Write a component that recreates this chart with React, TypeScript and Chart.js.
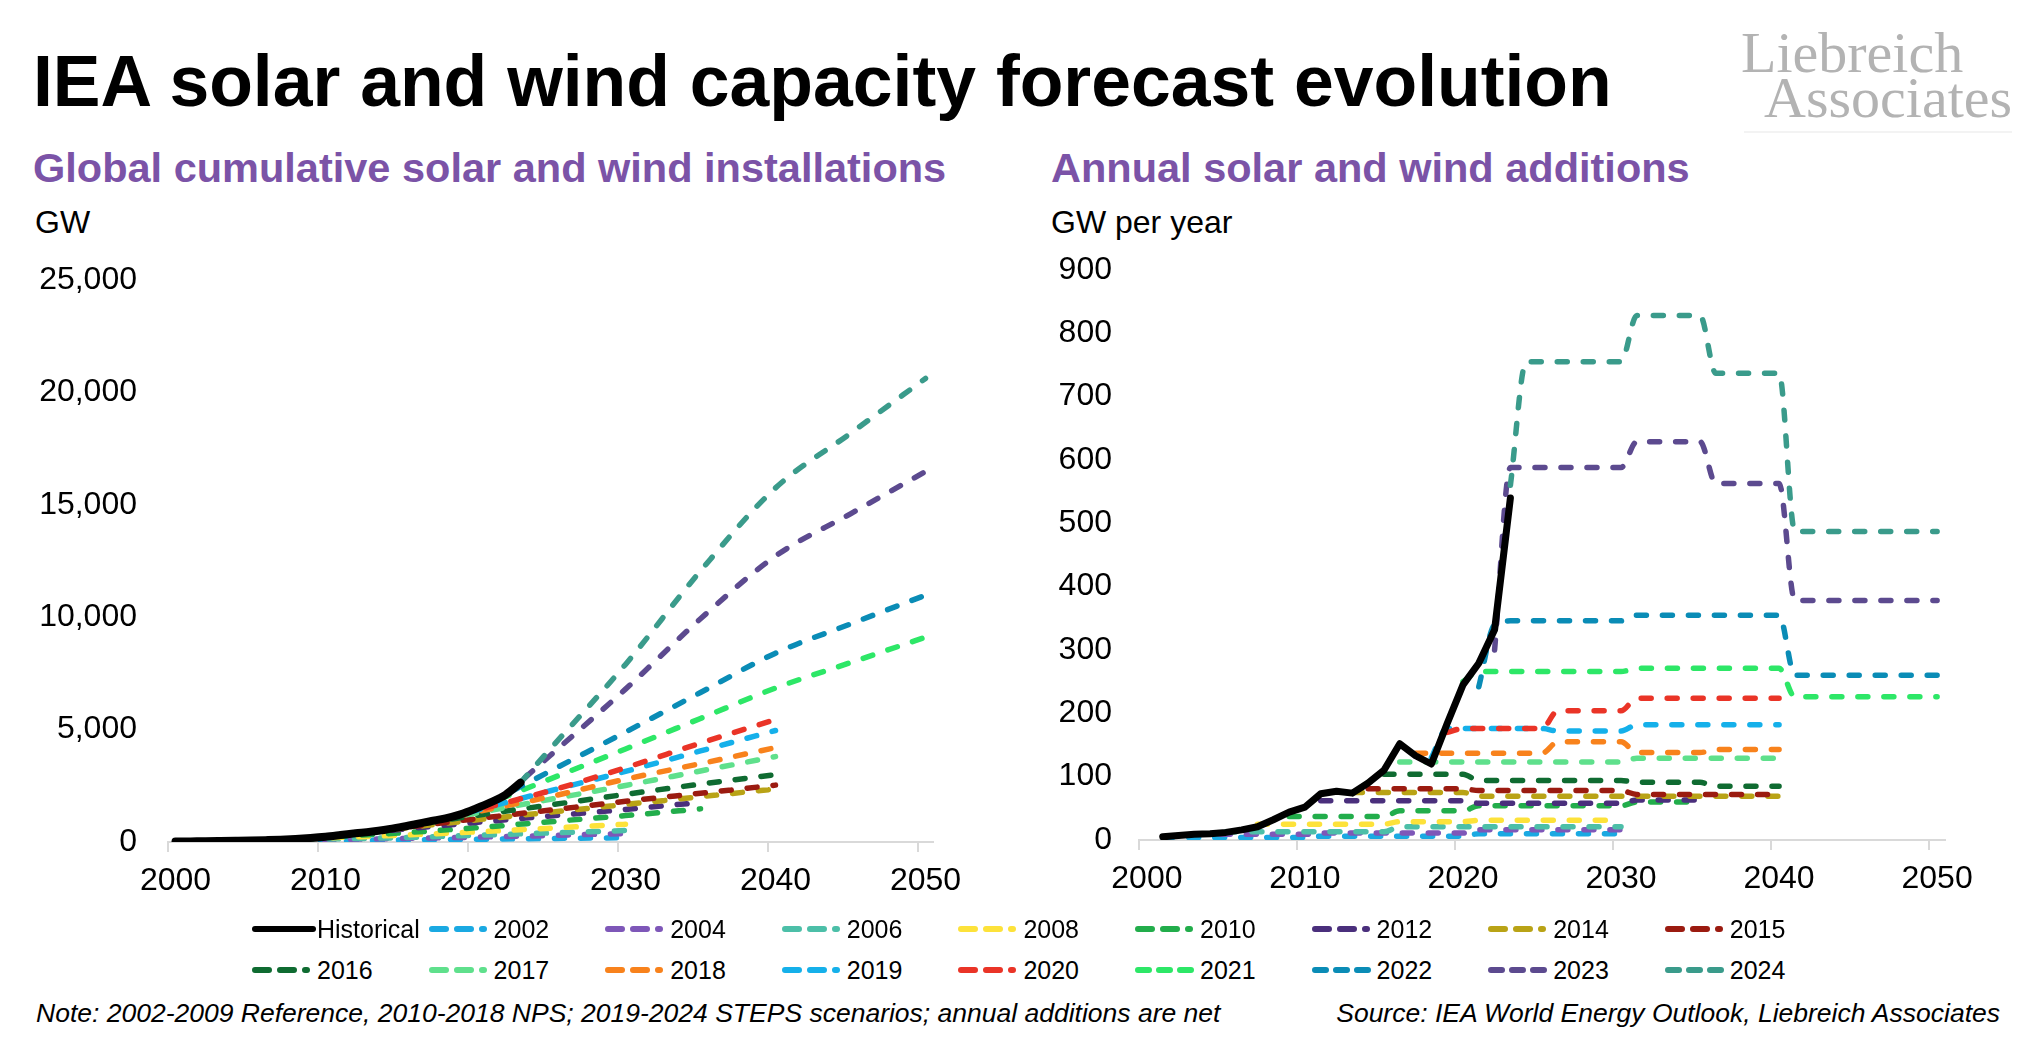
import React, { useEffect, useRef } from 'react';
import { Chart, registerables } from 'chart.js';

Chart.register(...registerables);

const FONT = "'Liberation Sans', Arial, Helvetica, sans-serif";
const SERIF = "'Liberation Serif', 'Times New Roman', serif";

// ---- tick positions (category boundaries at .5, labels at decades) ----
const xTickValues = [1999.5, 2000, 2009.5, 2010, 2019.5, 2020, 2029.5, 2030, 2039.5, 2040, 2049.5, 2050];
const leftYMax = 25000;
const leftYStep = 5000;
const rightYMax = 900;
const rightYStep = 100;

// ---- series names & colours ----
const seriesNames = ['2002', '2004', '2006', '2008', '2010', '2012', '2014', '2015', '2016', '2017', '2018', '2019', '2020', '2021', '2022', '2023', '2024'];
const seriesColors = ['#1aa9e2', '#7e57b8', '#4cbfa8', '#fde23a', '#22ad4b', '#4a2f7c', '#b9a316', '#9b1b10', '#0f6b31', '#5fe08c', '#f8821c', '#15b0ea', '#ea3427', '#2de767', '#0a8cb6', '#5c4a8f', '#3a9b8b'];

// ---- Historical ----
const histCumStart = 2000;
const histCum = [20, 27, 33, 42, 52, 64, 82, 104, 138, 182, 238, 310, 385, 455, 545, 660, 790, 925, 1050, 1230, 1480, 1760, 2100, 2640];
const histAddStart = 2001;
const histAdd = [5, 7, 9, 10, 12, 16, 21, 32, 44, 52, 73, 77, 74, 90, 110, 152, 133, 120, 184, 245, 279, 332, 540];

// ---- Cumulative forecasts (GW) ----
const cumYears2002 = [2001, 2010, 2020, 2030];
const cum2002 = [27, 63, 123, 190];
const cumYears2004 = [2003, 2010, 2020, 2030];
const cum2004 = [42, 105, 215, 375];
const cumYears2006 = [2005, 2010, 2015, 2020, 2030];
const cum2006 = [64, 129, 194, 299, 509];
const cumYears2008 = [2007, 2010, 2015, 2020, 2030];
const cum2008 = [104, 179, 304, 449, 790];
const cumYears2010 = [2009, 2015, 2020, 2025, 2030, 2035];
const cum2010 = [182, 404, 634, 904, 1174, 1474];
const cumYears2012 = [2011, 2015, 2020, 2025, 2030, 2035];
const cum2012 = [310, 558, 868, 1158, 1448, 1763];
const cumYears2014 = [2013, 2015, 2020, 2025, 2030, 2035, 2040];
const cum2014 = [455, 605, 980, 1325, 1670, 2015, 2360];
const cumYears2015 = [2014, 2020, 2025, 2030, 2035, 2040];
const cum2015 = [545, 1030, 1420, 1810, 2170, 2530];
const cumYears2016 = [2015, 2020, 2025, 2030, 2035, 2040];
const cum2016 = [660, 1180, 1650, 2120, 2575, 3000];
const cumYears2017 = [2016, 2020, 2025, 2030, 2035, 2040];
const cum2017 = [790, 1280, 1900, 2515, 3160, 3800];
const cumYears2018 = [2017, 2020, 2025, 2030, 2035, 2040];
const cum2018 = [925, 1335, 2020, 2795, 3485, 4200];
const cumYears2019 = [2018, 2020, 2025, 2030, 2035, 2040];
const cum2019 = [1050, 1400, 2280, 3140, 4050, 4960];
const cumYears2020 = [2019, 2020, 2025, 2030, 2035, 2040];
const cum2020 = [1230, 1405, 2285, 3305, 4400, 5450];
const cumYears2021 = [2020, 2025, 2030, 2035, 2040, 2045, 2050];
const cum2021 = [1480, 2810, 4140, 5495, 6850, 7980, 9110];
const cumYears2022 = [2021, 2025, 2030, 2035, 2040, 2045, 2050];
const cum2022 = [1760, 3160, 4890, 6650, 8400, 9700, 10980];
const cumYears2023 = [2022, 2025, 2030, 2035, 2040, 2045, 2050];
const cum2023 = [2100, 3860, 6800, 9930, 12720, 14600, 16480];
const cumYears2024 = [2023, 2025, 2030, 2035, 2040, 2045, 2050];
const cum2024 = [2640, 4150, 7900, 12060, 15750, 18180, 20620];

// ---- Annual additions forecasts (GW per year), one value per year from start year ----
const addStart2002 = 2001;
const add2002 = [4, 4, 4, 4, 4, 4, 4, 4, 4, 4, 6, 6, 6, 6, 6, 6, 6, 6, 6, 6, 10, 10, 10, 10, 10, 10, 10, 10, 10, 10];
const addStart2004 = 2003;
const add2004 = [9, 9, 9, 9, 9, 9, 9, 9, 11, 11, 11, 11, 11, 11, 11, 11, 11, 11, 16, 16, 16, 16, 16, 16, 16, 16, 16, 16];
const addStart2006 = 2005;
const add2006 = [13, 13, 13, 13, 13, 13, 13, 13, 13, 13, 13, 21, 21, 21, 21, 21, 21, 21, 21, 21, 21, 21, 21, 21, 21, 21];
const addStart2008 = 2007;
const add2008 = [25, 25, 25, 25, 25, 25, 25, 25, 25, 29, 29, 29, 29, 29, 31, 31, 31, 31, 31, 31, 31, 31, 31, 31];
const addStart2010 = 2009;
const add2010 = [37, 37, 37, 37, 37, 37, 37, 46, 46, 46, 46, 46, 54, 54, 54, 54, 54, 54, 54, 54, 54, 54, 60, 60, 60, 60, 60];
const addStart2012 = 2011;
const add2012 = [62, 62, 62, 62, 62, 62, 62, 62, 62, 62, 58, 58, 58, 58, 58, 58, 58, 58, 58, 58, 63, 63, 63, 63, 63];
const addStart2014 = 2013;
const add2014 = [75, 75, 75, 75, 75, 75, 75, 75, 69, 69, 69, 69, 69, 69, 69, 69, 69, 69, 69, 69, 69, 69, 69, 69, 69, 69, 69, 69];
const addStart2015 = 2014;
const add2015 = [81, 81, 81, 81, 81, 81, 81, 78, 78, 78, 78, 78, 78, 78, 78, 78, 78, 72, 72, 72, 72, 72, 72, 72, 72, 72, 72];
const addStart2016 = 2015;
const add2016 = [104, 104, 104, 104, 104, 104, 94, 94, 94, 94, 94, 94, 94, 94, 94, 94, 91, 91, 91, 91, 91, 85, 85, 85, 85, 85];
const addStart2017 = 2016;
const add2017 = [123, 123, 123, 123, 123, 123, 123, 123, 123, 123, 123, 123, 123, 123, 123, 129, 129, 129, 129, 129, 129, 129, 129, 129, 129];
const addStart2018 = 2017;
const add2018 = [137, 137, 137, 137, 137, 137, 137, 137, 137, 155, 155, 155, 155, 155, 138, 138, 138, 138, 138, 143, 143, 143, 143, 143];
const addStart2019 = 2018;
const add2019 = [130, 176, 176, 176, 176, 176, 176, 176, 172, 172, 172, 172, 172, 182, 182, 182, 182, 182, 182, 182, 182, 182, 182];
const addStart2020 = 2019;
const add2020 = [170, 176, 176, 176, 176, 176, 176, 204, 204, 204, 204, 204, 224, 224, 224, 224, 224, 224, 224, 224, 224, 224];
const addStart2021 = 2020;
const add2021 = [250, 266, 266, 266, 266, 266, 266, 266, 266, 266, 266, 271, 271, 271, 271, 271, 271, 271, 271, 271, 271, 226, 226, 226, 226, 226, 226, 226, 226, 226, 226];
const addStart2022 = 2021;
const add2022 = [242, 340, 346, 346, 346, 346, 346, 346, 346, 346, 355, 355, 355, 355, 355, 355, 355, 355, 355, 355, 260, 260, 260, 260, 260, 260, 260, 260, 260, 260];
const addStart2023 = 2022;
const add2023 = [300, 588, 588, 588, 588, 588, 588, 588, 588, 629, 629, 629, 629, 629, 563, 563, 563, 563, 563, 378, 378, 378, 378, 378, 378, 378, 378, 378, 378];
const addStart2024 = 2023;
const add2024 = [560, 755, 755, 755, 755, 755, 755, 755, 828, 828, 828, 828, 828, 737, 737, 737, 737, 737, 487, 487, 487, 487, 487, 487, 487, 487, 487, 487];

const cumYearsList = [cumYears2002, cumYears2004, cumYears2006, cumYears2008, cumYears2010, cumYears2012, cumYears2014, cumYears2015, cumYears2016, cumYears2017, cumYears2018, cumYears2019, cumYears2020, cumYears2021, cumYears2022, cumYears2023, cumYears2024];
const cumList = [cum2002, cum2004, cum2006, cum2008, cum2010, cum2012, cum2014, cum2015, cum2016, cum2017, cum2018, cum2019, cum2020, cum2021, cum2022, cum2023, cum2024];
const addStartList = [addStart2002, addStart2004, addStart2006, addStart2008, addStart2010, addStart2012, addStart2014, addStart2015, addStart2016, addStart2017, addStart2018, addStart2019, addStart2020, addStart2021, addStart2022, addStart2023, addStart2024];
const addList = [add2002, add2004, add2006, add2008, add2010, add2012, add2014, add2015, add2016, add2017, add2018, add2019, add2020, add2021, add2022, add2023, add2024];

const legendRow1 = ['Historical', '2002', '2004', '2006', '2008', '2010', '2012', '2014', '2015'];
const legendRow2 = ['2016', '2017', '2018', '2019', '2020', '2021', '2022', '2023', '2024'];

const fromStart = (start: number, vals: number[]) => vals.map((v, i) => ({ x: start + i, y: v }));
const fromYears = (years: number[], vals: number[]) => vals.map((v, i) => ({ x: years[i], y: v }));

const DASH = [10, 16];

function xAxis() {
  return {
    type: 'linear',
    min: 1999.5,
    max: 2050.5,
    afterBuildTicks: (scale: any) => {
      scale.ticks = xTickValues.map((v) => ({ value: v }));
    },
    afterFit: (scale: any) => {
      scale.height = 60;
    },
    ticks: {
      autoSkip: false,
      maxRotation: 0,
      minRotation: 0,
      padding: 10,
      color: '#000',
      font: { size: 32, family: FONT },
      callback: (v: any) => (Number.isInteger(v) ? String(v) : ''),
    },
    grid: {
      drawOnChartArea: false,
      drawTicks: true,
      tickLength: 10,
      lineWidth: 2,
      color: (ctx: any) => (ctx.tick && !Number.isInteger(ctx.tick.value) ? '#d9d9d9' : 'rgba(0,0,0,0)'),
    },
    border: { display: true, color: '#d9d9d9', width: 2 },
  };
}

function yAxis(max: number, step: number, width: number, pad: number) {
  return {
    min: 0,
    max,
    afterFit: (scale: any) => {
      scale.width = width;
      scale.paddingTop = 0;
      scale.paddingBottom = 0;
    },
    ticks: {
      stepSize: step,
      padding: pad,
      color: '#000',
      font: { size: 32, family: FONT },
      callback: (v: any) => Number(v).toLocaleString('en-US'),
    },
    grid: { display: false, drawTicks: false, tickLength: 0 },
    border: { display: false },
  };
}

function baseOptions(scales: any, padding: any) {
  return {
    responsive: false,
    animation: false,
    events: [],
    layout: { padding },
    plugins: { legend: { display: false }, tooltip: { enabled: false }, title: { display: false } },
    elements: { point: { radius: 0, hoverRadius: 0 } },
    scales,
  };
}

function Sample({ color, kind }: { color: string; kind: string }) {
  if (kind === 'solid') {
    return (
      <svg width={64} height={12} style={{ display: 'block' }}>
        <line x1={3} y1={6} x2={61} y2={6} stroke={color} strokeWidth={6} strokeLinecap="round" />
      </svg>
    );
  }
  if (kind === 'dash3') {
    return (
      <svg width={64} height={12} style={{ display: 'block' }}>
        <line x1={3} y1={6} x2={56} y2={6} stroke={color} strokeWidth={6} strokeLinecap="round" strokeDasharray="11 10" />
      </svg>
    );
  }
  return (
    <svg width={64} height={12} style={{ display: 'block' }}>
      <line x1={3} y1={6} x2={55} y2={6} stroke={color} strokeWidth={6} strokeLinecap="round" strokeDasharray="14 11" />
    </svg>
  );
}

export default function App() {
  const leftRef = useRef<HTMLCanvasElement | null>(null);
  const rightRef = useRef<HTMLCanvasElement | null>(null);

  useEffect(() => {
    const lineBase = {
      borderCapStyle: 'round',
      borderJoinStyle: 'round',
      pointRadius: 0,
      fill: false,
    };

    const leftSets: any[] = [
      {
        ...lineBase,
        label: 'Historical',
        data: fromStart(histCumStart, histCum),
        borderColor: '#000',
        borderWidth: 8,
        tension: 0.4,
        cubicInterpolationMode: 'monotone',
      },
    ];
    const rightSets: any[] = [
      {
        ...lineBase,
        label: 'Historical',
        data: fromStart(histAddStart, histAdd),
        borderColor: '#000',
        borderWidth: 7,
        tension: 0,
      },
    ];
    for (let i = seriesNames.length - 1; i >= 0; i--) {
      leftSets.push({
        ...lineBase,
        label: seriesNames[i],
        data: fromYears(cumYearsList[i], cumList[i]),
        borderColor: seriesColors[i],
        borderWidth: 5.5,
        borderDash: DASH,
        tension: 0.4,
        cubicInterpolationMode: 'monotone',
      });
      rightSets.push({
        ...lineBase,
        label: seriesNames[i],
        data: fromStart(addStartList[i], addList[i]),
        borderColor: seriesColors[i],
        borderWidth: 5.5,
        borderDash: DASH,
        tension: 0.4,
        cubicInterpolationMode: 'monotone',
      });
    }

    const left = new Chart(leftRef.current as HTMLCanvasElement, {
      type: 'line',
      data: { datasets: leftSets },
      options: baseOptions(
        { x: xAxis(), y: yAxis(leftYMax, leftYStep, 168, 31) },
        { left: 0, right: 67, top: 40, bottom: 18 }
      ) as any,
    } as any);

    const right = new Chart(rightRef.current as HTMLCanvasElement, {
      type: 'line',
      data: { datasets: rightSets },
      options: baseOptions(
        { x: xAxis(), y: yAxis(rightYMax, rightYStep, 139, 27) },
        { left: 0, right: 85, top: 30, bottom: 20 }
      ) as any,
    } as any);

    return () => {
      left.destroy();
      right.destroy();
    };
  }, []);

  const colorOf = (name: string) => (name === 'Historical' ? '#000' : seriesColors[seriesNames.indexOf(name)]);
  const kindOf = (name: string) => (name === 'Historical' ? 'solid' : Number(name) >= 2021 ? 'dash3' : 'dashdot');

  const legendRows = [legendRow1, legendRow2];
  const rowY = [929, 970];

  return (
    <div
      style={{
        position: 'absolute',
        left: 0,
        top: 0,
        width: 2030,
        height: 1040,
        background: '#fff',
        overflow: 'hidden',
        fontFamily: FONT,
        color: '#000',
      }}
    >
      <div style={{ position: 'absolute', left: 33, top: 46, fontSize: 71.5, lineHeight: '71.5px', fontWeight: 700, whiteSpace: 'nowrap' }}>
        IEA solar and wind capacity forecast evolution
      </div>

      <div style={{ position: 'absolute', left: 1741, top: 24, fontFamily: SERIF, fontSize: 58, lineHeight: '58px', color: '#b3b3b3', whiteSpace: 'nowrap' }}>
        Liebreich
      </div>
      <div style={{ position: 'absolute', left: 1764, top: 69, fontFamily: SERIF, fontSize: 58, lineHeight: '58px', color: '#b3b3b3', whiteSpace: 'nowrap' }}>
        Associates
      </div>
      <div style={{ position: 'absolute', left: 1744, top: 131, width: 268, height: 2, background: '#f3f3f3' }} />

      <div style={{ position: 'absolute', left: 33, top: 147, fontSize: 41.5, lineHeight: '41.5px', fontWeight: 700, color: '#7b53a7', whiteSpace: 'nowrap' }}>
        Global cumulative solar and wind installations
      </div>
      <div style={{ position: 'absolute', left: 1051, top: 147, fontSize: 41.5, lineHeight: '41.5px', fontWeight: 700, color: '#7b53a7', whiteSpace: 'nowrap' }}>
        Annual solar and wind additions
      </div>

      <div style={{ position: 'absolute', left: 35, top: 206, fontSize: 32, lineHeight: '32px', whiteSpace: 'nowrap' }}>GW</div>
      <div style={{ position: 'absolute', left: 1051, top: 206, fontSize: 32, lineHeight: '32px', whiteSpace: 'nowrap' }}>GW per year</div>

      <canvas ref={leftRef} width={1000} height={680} style={{ position: 'absolute', left: 0, top: 240, width: 1000, height: 680 }} />
      <canvas ref={rightRef} width={1030} height={680} style={{ position: 'absolute', left: 1000, top: 240, width: 1030, height: 680 }} />

      {legendRows.map((row, r) =>
        row.map((name, c) => (
          <div
            key={name}
            style={{
              position: 'absolute',
              left: 252 + 176.6 * c,
              top: rowY[r] - 15,
              height: 30,
              display: 'flex',
              alignItems: 'center',
              whiteSpace: 'nowrap',
            }}
          >
            <Sample color={colorOf(name)} kind={kindOf(name)} />
            <span style={{ fontSize: 25, lineHeight: '25px', marginLeft: 1 }}>{name}</span>
          </div>
        ))
      )}

      <div style={{ position: 'absolute', left: 36, top: 1000, fontSize: 26.5, lineHeight: '26.5px', fontStyle: 'italic', whiteSpace: 'nowrap' }}>
        Note: 2002-2009 Reference, 2010-2018 NPS; 2019-2024 STEPS scenarios; annual additions are net
      </div>
      <div style={{ position: 'absolute', right: 30, top: 1000, fontSize: 26.5, lineHeight: '26.5px', fontStyle: 'italic', whiteSpace: 'nowrap' }}>
        Source: IEA World Energy Outlook, Liebreich Associates
      </div>
    </div>
  );
}
